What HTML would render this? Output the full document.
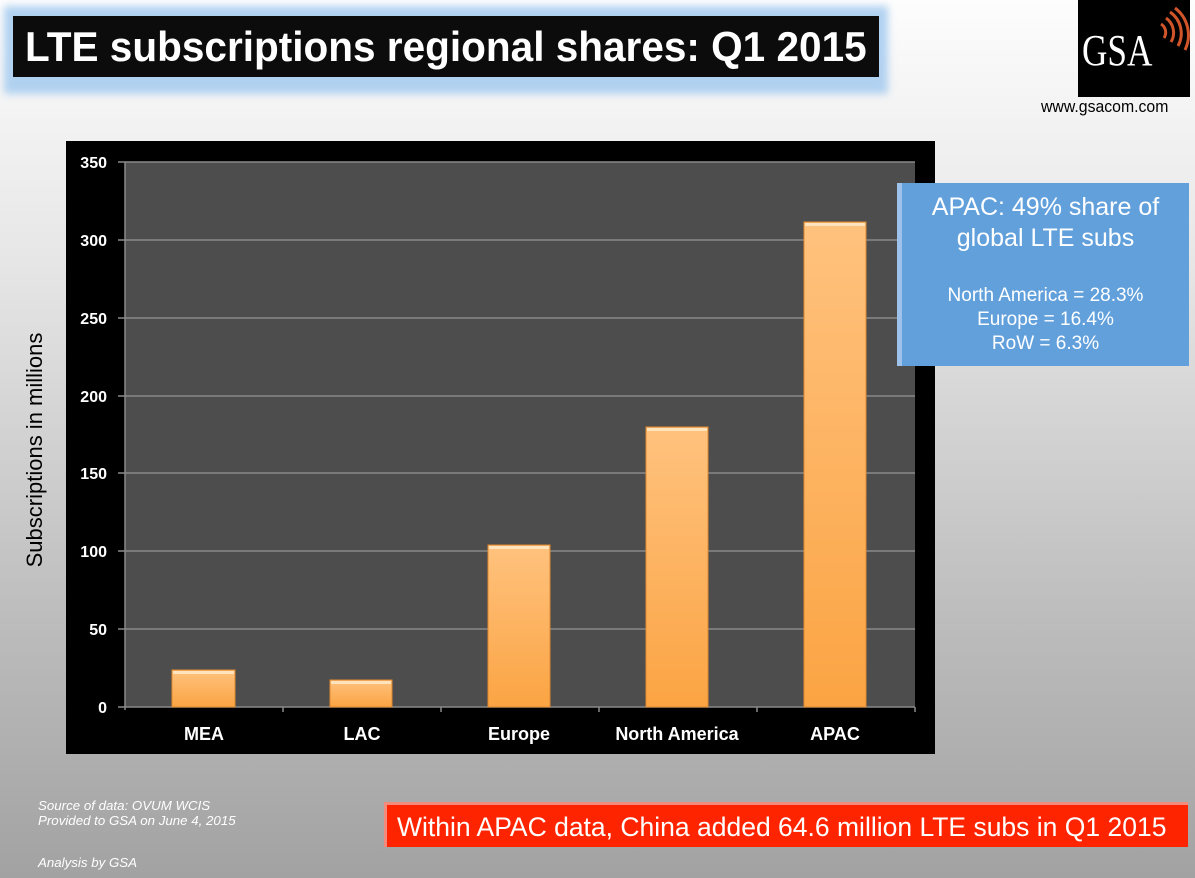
<!DOCTYPE html>
<html><head><meta charset="utf-8"><style>
body{margin:0;width:1195px;height:878px;overflow:hidden;position:relative;font-family:"Liberation Sans",sans-serif;background:linear-gradient(#fdfdfd 0%,#e6e6e6 30%,#bdbdbd 70%,#a2a2a2 100%);}
.a{position:absolute}
</style></head><body>
<div class="a" style="left:4px;top:6px;width:884px;height:88px;background:#a9cdf0;filter:blur(4px);opacity:.9"></div>
<div class="a" style="left:13px;top:16px;width:866px;height:61px;background:#0c0c0c"></div>
<div class="a" style="left:25px;top:16px;color:#fff;font-weight:bold;font-size:42px;line-height:61px;white-space:nowrap;transform:scaleX(0.965);transform-origin:left">LTE subscriptions regional shares: Q1 2015</div>
<div class="a" style="left:1078px;top:0;width:112px;height:97px;background:#000"></div>
<div class="a" style="left:1082px;top:26px;color:#fff;font-family:'Liberation Serif',serif;font-size:44px;line-height:50px;transform:scaleX(0.8);transform-origin:left">GSA</div>
<svg class="a" style="left:1138px;top:6px" width="52" height="60"><g fill="none" stroke="#d2552a" stroke-width="3"><path d="M26 32 a10 10 0 0 0 -3 -14"/><path d="M33 36 a18 18 0 0 0 -5 -24"/><path d="M40 40 a26 26 0 0 0 -8 -34"/><path d="M47 44 a34 34 0 0 0 -10 -42"/></g></svg>
<div class="a" style="left:1041px;top:97px;font-size:17px;color:#000;white-space:nowrap;transform:scaleX(0.93);transform-origin:left">www.gsacom.com</div>

<svg class="a" style="left:0;top:0" width="1195" height="878">
<rect x="66" y="141" width="869" height="613" fill="#000"/>
<rect x="125" y="162" width="790" height="545" fill="#4d4d4d"/>
<g stroke="#8a8a8a" stroke-width="1.5">
<line x1="125" y1="162" x2="915" y2="162"/><line x1="125" y1="240" x2="915" y2="240"/><line x1="125" y1="318" x2="915" y2="318"/><line x1="125" y1="396" x2="915" y2="396"/><line x1="125" y1="473" x2="915" y2="473"/><line x1="125" y1="551" x2="915" y2="551"/><line x1="125" y1="629" x2="915" y2="629"/>
<line x1="125" y1="162" x2="125" y2="710"/><line x1="118" y1="707" x2="915" y2="707"/>
<line x1="283" y1="707" x2="283" y2="712"/><line x1="441" y1="707" x2="441" y2="712"/><line x1="599" y1="707" x2="599" y2="712"/><line x1="757" y1="707" x2="757" y2="712"/><line x1="915" y1="707" x2="915" y2="712"/>
<line x1="118" y1="162" x2="125" y2="162"/><line x1="118" y1="240" x2="125" y2="240"/><line x1="118" y1="318" x2="125" y2="318"/><line x1="118" y1="396" x2="125" y2="396"/><line x1="118" y1="473" x2="125" y2="473"/><line x1="118" y1="551" x2="125" y2="551"/><line x1="118" y1="629" x2="125" y2="629"/>
</g>
<defs><linearGradient id="g" x1="0" y1="0" x2="0" y2="1"><stop offset="0" stop-color="#ffc27e"/><stop offset="1" stop-color="#fba443"/></linearGradient></defs>
<g fill="url(#g)" stroke="#e08a30" stroke-width="1">
<rect x="172" y="670" width="63" height="37"/><rect x="330" y="680" width="62" height="27"/><rect x="488" y="545" width="62" height="162"/><rect x="646" y="427" width="62" height="280"/><rect x="804" y="222" width="62" height="485"/>
</g>
<g fill="#ffe3bd"><rect x="173" y="671" width="61" height="3"/><rect x="331" y="681" width="60" height="3"/><rect x="489" y="546" width="60" height="3"/><rect x="647" y="428" width="60" height="3"/><rect x="805" y="223" width="60" height="3"/></g>
<g fill="#fff" font-weight="bold" font-size="16" text-anchor="end">
<text x="107" y="168">350</text><text x="107" y="246">300</text><text x="107" y="324">250</text><text x="107" y="402">200</text><text x="107" y="479">150</text><text x="107" y="557">100</text><text x="107" y="635">50</text><text x="107" y="713">0</text></g>
<g fill="#fff" font-weight="bold" font-size="18" text-anchor="middle">
<text x="204" y="740">MEA</text><text x="362" y="740">LAC</text><text x="519" y="740">Europe</text><text x="677" y="740">North America</text><text x="835" y="740">APAC</text></g>
<text transform="translate(42,450) rotate(-90)" text-anchor="middle" font-size="22" fill="#000">Subscriptions in millions</text>
</svg>

<div class="a" style="left:897px;top:183px;width:292px;height:183px;background:#62a0dc;border-left:5px solid #9dc3ec;box-sizing:border-box;color:#fff;text-align:center">
<div style="font-size:25px;line-height:31px;margin-top:9px">APAC: 49% share of<br>global LTE subs</div>
<div style="font-size:19px;line-height:24px;margin-top:30px">North America = 28.3%<br>Europe = 16.4%<br>RoW = 6.3%</div></div>

<div class="a" style="left:38px;top:798px;font-size:13.3px;font-style:italic;color:#fff;line-height:15px">Source of data: OVUM WCIS<br>Provided to GSA on June 4, 2015</div>
<div class="a" style="left:38px;top:855px;font-size:13.3px;font-style:italic;color:#fff">Analysis by GSA</div>
<div class="a" style="left:384px;top:802px;width:804px;height:45px;background:#ff2400;border:3px solid #f48a7c;border-right:none;border-bottom:none;box-sizing:border-box;color:#fff;font-size:26.5px;line-height:44px;padding-left:10px;white-space:nowrap">Within APAC data, China added 64.6 million LTE subs in Q1 2015</div>
</body></html>
